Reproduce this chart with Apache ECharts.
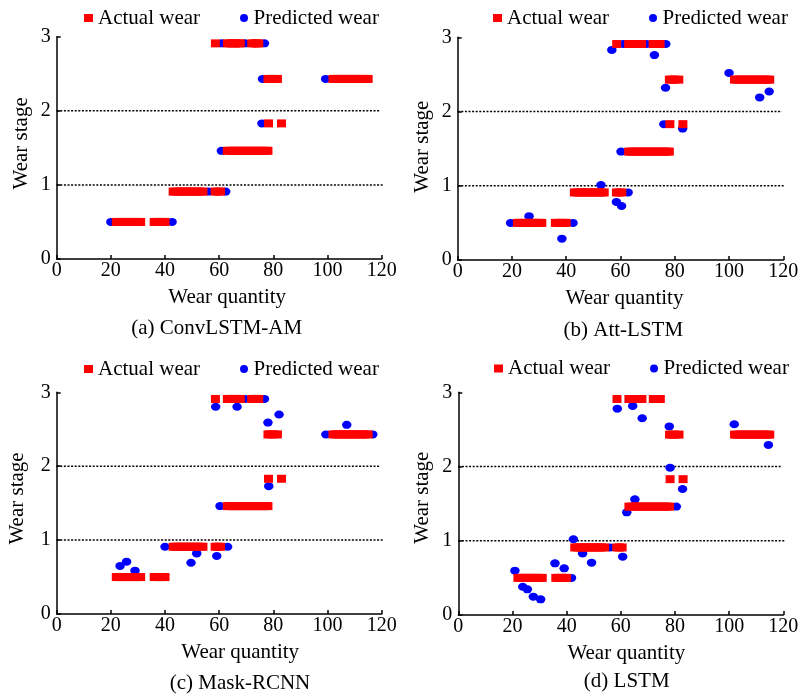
<!DOCTYPE html>
<html>
<head>
<meta charset="utf-8">
<script src="https://cdn.jsdelivr.net/npm/echarts@6/dist/echarts.min.js"></script>
<style>
html,body{margin:0;padding:0;background:#fff;}
#chart{width:803px;height:700px;}
</style>
</head>
<body>
<div id="chart"></div>
<script>
// ---------------- data ----------------
const panelTitles = ['(a) ConvLSTM-AM', '(b) Att-LSTM', '(c) Mask-RCNN', '(d) LSTM'];
const xTicks = [0, 20, 40, 60, 80, 100, 120];
const yTicks = [0, 1, 2, 3];
const stageLines = [1, 2];
const stageLineEnd = [121.5, 119.5];

// actual wear (same in all four panels): [wear quantity, wear stage]
const actualWear = [
  [22,0.5],[23,0.5],[24,0.5],[25,0.5],[26,0.5],[27,0.5],[28,0.5],[29,0.5],[30,0.5],[31,0.5],
  [36,0.5],[37,0.5],[38,0.5],[39,0.5],[40,0.5],
  [43,0.91],[44,0.91],[45,0.91],[46,0.91],[47,0.91],[48,0.91],[49,0.91],[50,0.91],[51,0.91],[52,0.91],[53,0.91],[54,0.91],
  [58.5,0.91],[59.5,0.91],[60.5,0.91],
  [63,1.46],[64,1.46],[65,1.46],[66,1.46],[67,1.46],[68,1.46],[69,1.46],[70,1.46],[71,1.46],[72,1.46],[73,1.46],[74,1.46],[75,1.46],[76,1.46],[77,1.46],[78,1.46],
  [78.2,1.83],[83,1.83],
  [78,2.43],[79,2.43],[80,2.43],[81.5,2.43],
  [102,2.43],[103,2.43],[104,2.43],[105,2.43],[106,2.43],[107,2.43],[108,2.43],[109,2.43],[110,2.43],[111,2.43],[112,2.43],[113,2.43],[114,2.43],[115,2.43],
  [58.6,2.91],
  [63,2.91],[64,2.91],[65,2.91],[66,2.91],[67,2.91],[67.8,2.91],
  [72,2.91],[73,2.91],[74,2.91],[74.6,2.91]
];

// predicted wear (visible points) per panel
const predictedA = [
  [20,0.5],[42.6,0.5],[56,0.91],[62.4,0.91],[60.8,1.46],[75.8,1.83],
  [76,2.43],[99.3,2.43],[60.9,2.91],[69.5,2.91],[76.7,2.91]
];
const predictedB = [
  [19.5,0.5],[42.5,0.5],[26.3,0.59],[38.4,0.287],[52.8,1.01],[62.8,0.91],
  [58.5,0.782],[60.4,0.728],[60.2,1.46],[76,1.83],[82.9,1.77],[76.6,2.32],
  [100,2.52],[111.3,2.19],[114.8,2.27],[56.8,2.83],[61,2.91],[69.6,2.91],
  [72.5,2.76],[76.7,2.91]
];
const predictedC = [
  [56.6,3.02],[58.7,2.805],[66.6,2.805],[69.5,2.91],[76.7,2.91],[78,2.59],
  [82.1,2.7],[99.4,2.43],[116.7,2.43],[107.1,2.56],[78.3,1.73],[60.3,1.46],
  [40,0.91],[63.1,0.91],[51.7,0.82],[49.6,0.694],[59.1,0.785],
  [23.4,0.65],[25.8,0.708],[28.9,0.586]
];
const predictedD = [
  [20.9,0.597],[23.8,0.38],[25.5,0.346],[27.7,0.247],[30.4,0.211],[35.7,0.696],
  [39.1,0.629],[41.8,0.5],[42.5,1.02],[45.9,0.83],[49.2,0.705],[56,0.91],
  [60.7,0.786],[62.2,1.383],[65.2,1.558],[80.5,1.46],[78.2,1.985],[82.8,1.697],
  [77.9,2.54],[101.9,2.57],[114.5,2.29],[58.7,2.78],[64.4,2.815],[67.7,3.03],[67.9,2.65]
];
const predictedAll = [predictedA, predictedB, predictedC, predictedD];

// ---------------- layout ----------------
const FONT = "'Liberation Serif','Times New Roman',serif";
const grids = [
  {left: 56.7, top: 36.7, width: 325, height: 222.3},
  {left: 457.7, top: 37.3, width: 325.6, height: 222.7},
  {left: 56.7, top: 392.3, width: 325, height: 221.7},
  {left: 458.3, top: 392.3, width: 325, height: 222.7}
];
const legendPos = [{left: 84, top: 7.5}, {left: 493, top: 7.5}, {left: 84, top: 358.5}, {left: 494, top: 358}];
const titlePos = [{x: 216.7, y: 318}, {x: 623.3, y: 319.5}, {x: 240, y: 673}, {x: 626.7, y: 671}];
const xNameShift = [8, 4, 21, 5.5];
const yNameShift = [4.5, 2, 4.7, 6];
const yNameGap = [25, 25, 29, 25];

const option = {
  backgroundColor: '#fff',
  animation: false,
  textStyle: {fontFamily: FONT, color: '#000'},
  grid: grids.map(g => Object.assign({containLabel: false}, g)),
  title: panelTitles.map((t, i) => ({
    text: t, left: titlePos[i].x, top: titlePos[i].y, textAlign: 'center', padding: 0,
    textStyle: {fontFamily: FONT, fontSize: 21, fontWeight: 'normal', color: '#000'}
  })),
  legend: legendPos.map(p => ({
    left: p.left, top: p.top, padding: 0, itemGap: 40, itemWidth: 9, itemHeight: 8, itemTextGap: 6,
    data: [{name: 'Actual wear', icon: 'rect'}, {name: 'Predicted wear', icon: 'circle'}],
    textStyle: {fontFamily: FONT, fontSize: 21, color: '#000'},
    selectedMode: false
  })),
  xAxis: grids.map((g, i) => ({
    gridIndex: i, type: 'value', min: xTicks[0], max: xTicks[xTicks.length - 1], interval: xTicks[1] - xTicks[0],
    axisLine: {show: true, onZero: false, lineStyle: {color: '#000', width: 1.5}},
    axisTick: {show: true, inside: true, length: 4, lineStyle: {color: '#000', width: 1.5}},
    axisLabel: {color: '#000', fontFamily: FONT, fontSize: 20, margin: 2},
    splitLine: {show: false},
    name: 'Wear quantity', nameLocation: 'middle', nameGap: 28,
    nameTextStyle: {fontFamily: FONT, fontSize: 21, color: '#000', padding: [0, 0, 0, 2 * xNameShift[i]]}
  })),
  yAxis: grids.map((g, i) => ({
    gridIndex: i, type: 'value', min: yTicks[0], max: yTicks[yTicks.length - 1], interval: 1,
    axisLine: {show: true, onZero: false, lineStyle: {color: '#000', width: 1.5}},
    axisTick: {show: true, inside: true, length: 4, lineStyle: {color: '#000', width: 1.5}},
    axisLabel: {color: '#000', fontFamily: FONT, fontSize: 20, margin: 6},
    splitLine: {show: false},
    name: 'Wear stage', nameLocation: 'middle', nameGap: yNameGap[i], nameRotate: 90,
    nameTextStyle: {fontFamily: FONT, fontSize: 21, color: '#000', padding: [0, 0, 0, 2 * yNameShift[i]]}
  })),
  series: []
};

for (let i = 0; i < 4; i++) {
  stageLines.forEach((v, k) => {
    option.series.push({
      type: 'line', xAxisIndex: i, yAxisIndex: i, clip: false, silent: true,
      symbol: 'none', z: 1,
      lineStyle: {color: '#000', type: [2, 1.6], width: 1.5},
      data: [[0, v], [stageLineEnd[k], v]]
    });
  });
  option.series.push({
    type: 'scatter', name: 'Predicted wear', xAxisIndex: i, yAxisIndex: i,
    symbol: 'circle', symbolSize: [9.5, 8], z: 3,
    itemStyle: {color: '#0000FF', opacity: 1},
    data: predictedAll[i]
  });
  option.series.push({
    type: 'scatter', name: 'Actual wear', xAxisIndex: i, yAxisIndex: i,
    symbol: 'rect', symbolSize: [9, 8], z: 4,
    itemStyle: {color: '#FF0000', opacity: 1},
    data: actualWear
  });
}

const chart = echarts.init(document.getElementById('chart'), null, {renderer: 'canvas'});
chart.setOption(option);
</script>
</body>
</html>
